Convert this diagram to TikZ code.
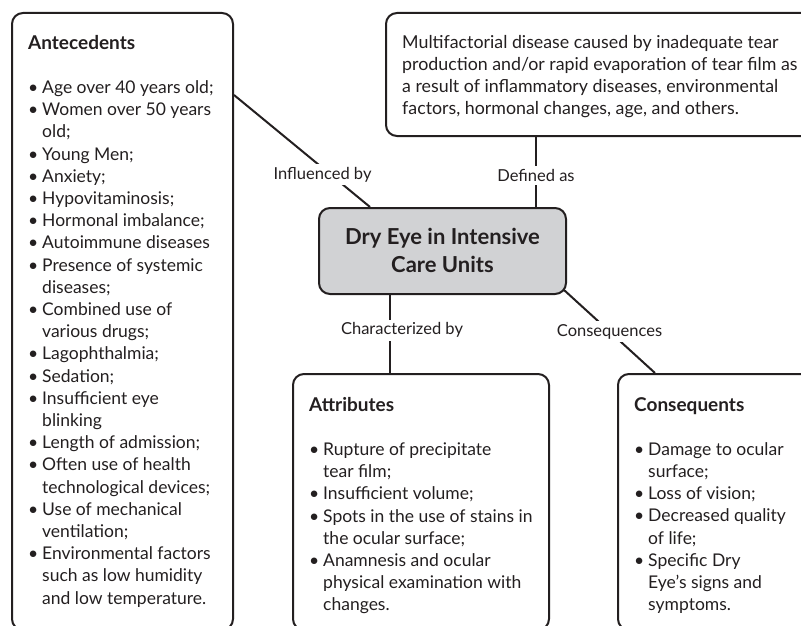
\documentclass[tikz,border=0pt]{standalone}
\usepackage{fontspec}
\setmainfont{Lato}
\usepackage{tikz}
\usetikzlibrary{positioning,calc}

\definecolor{inkline}{HTML}{231F20}
\definecolor{corefill}{HTML}{D1D2D4}

\newcommand{\bul}{\makebox[14pt][l]{\textbullet}}
\newcommand{\ind}{\hspace*{14pt}}
\newcommand{\boxhead}[1]{{\fontsize{19}{22.2}\selectfont\bfseries #1}}

\begin{document}
\begin{tikzpicture}[
  x=1pt, y=-1pt,
  listbox/.style={rectangle, rounded corners=11pt, draw=inkline, line width=2pt, inner sep=0pt, anchor=north west},
  corebox/.style={listbox, fill=corefill, align=center, text=inkline, font=\fontsize{22}{28}\selectfont\bfseries},
  boxtext/.style={inner sep=0pt, align=left, text=inkline, font=\fontsize{17.5}{22.2}\selectfont},
  linklabel/.style={fill=white, inner sep=3pt, text=inkline, font=\fontsize{16.5}{20}\selectfont},
  link/.style={draw=inkline, line width=2pt}
]
\useasboundingbox (0,0) rectangle (801,626);
\clip (0,0) rectangle (801,626);

%Boxes
\node[listbox, minimum width=221pt, minimum height=617pt] (ante) at (11,12) {};
\node[listbox, minimum width=440pt, minimum height=123pt] (defn) at (385,12) {};
\node[corebox, minimum width=247pt, minimum height=86pt, text depth=2pt] (core) at (318,207) {Dry Eye in Intensive\\Care Units};
\node[listbox, minimum width=256pt, minimum height=256pt] (attr) at (292,373) {};
\node[listbox, minimum width=220pt, minimum height=256pt] (conseq) at (617,373) {};

%Texts
\node[boxtext, below right=23pt and 17pt of ante.north west] (antetxt) {\boxhead{Antecedents}\\[22pt]
\bul Age over 40 years old;\\
\bul Women over 50 years\\
\ind old;\\
\bul Young Men;\\
\bul Anxiety;\\
\bul Hypovitaminosis;\\
\bul Hormonal imbalance;\\
\bul Autoimmune diseases\\
\bul Presence of systemic\\
\ind diseases;\\
\bul Combined use of\\
\ind various drugs;\\
\bul Lagophthalmia;\\
\bul Sedation;\\
\bul Insufficient eye\\
\ind blinking\\
\bul Length of admission;\\
\bul Often use of health\\
\ind technological devices;\\
\bul Use of mechanical\\
\ind ventilation;\\
\bul Environmental factors\\
\ind such as low humidity\\
\ind and low temperature.};

\node[boxtext, font=\fontsize{17.8}{22.2}\selectfont, below right=23pt and 17pt of defn.north west] (defntxt) {Multifactorial disease caused by inadequate tear\\
production and/or rapid evaporation of tear film as\\
a result of inflammatory diseases, environmental\\
factors, hormonal changes, age, and others.};

\node[boxtext, below right=24pt and 17pt of attr.north west] (attrtxt) {\boxhead{Attributes}\\[22pt]
\bul Rupture of precipitate\\
\ind tear film;\\
\bul Insufficient volume;\\
\bul Spots in the use of stains in\\
\ind the ocular surface;\\
\bul Anamnesis and ocular\\
\ind physical examination with\\
\ind changes.};

\node[boxtext, below right=24pt and 17pt of conseq.north west] (conseqtxt) {\boxhead{Consequents}\\[22pt]
\bul Damage to ocular\\
\ind surface;\\
\bul Loss of vision;\\
\bul Decreased quality\\
\ind of life;\\
\bul Specific Dry\\
\ind Eye’s signs and\\
\ind symptoms.};

%Links
\coordinate (inA) at ([yshift=-83pt]ante.north east);
\coordinate (inB) at ([xshift=52pt]core.north west);
\coordinate (defB) at ([xshift=-31pt]core.north east);
\coordinate (chA) at ([xshift=72pt]core.south west);
\coordinate (csA) at ([shift={(-3pt,5pt)}]core.south east);
\coordinate (csB) at ([xshift=38pt]conseq.north west);

\draw[link] (inA) -- node[linklabel, pos=0.71, xshift=-8pt]{Influenced by} (inB);
\draw[link] (defn.south -| defB) -- node[linklabel, pos=0.55]{Defined as} (defB);
\draw[link] (chA) -- node[linklabel, pos=0.45, xshift=12pt]{Characterized by} (chA |- attr.north);
\draw[link] (csA) -- node[linklabel]{Consequences} (csB);
\end{tikzpicture}
\end{document}
